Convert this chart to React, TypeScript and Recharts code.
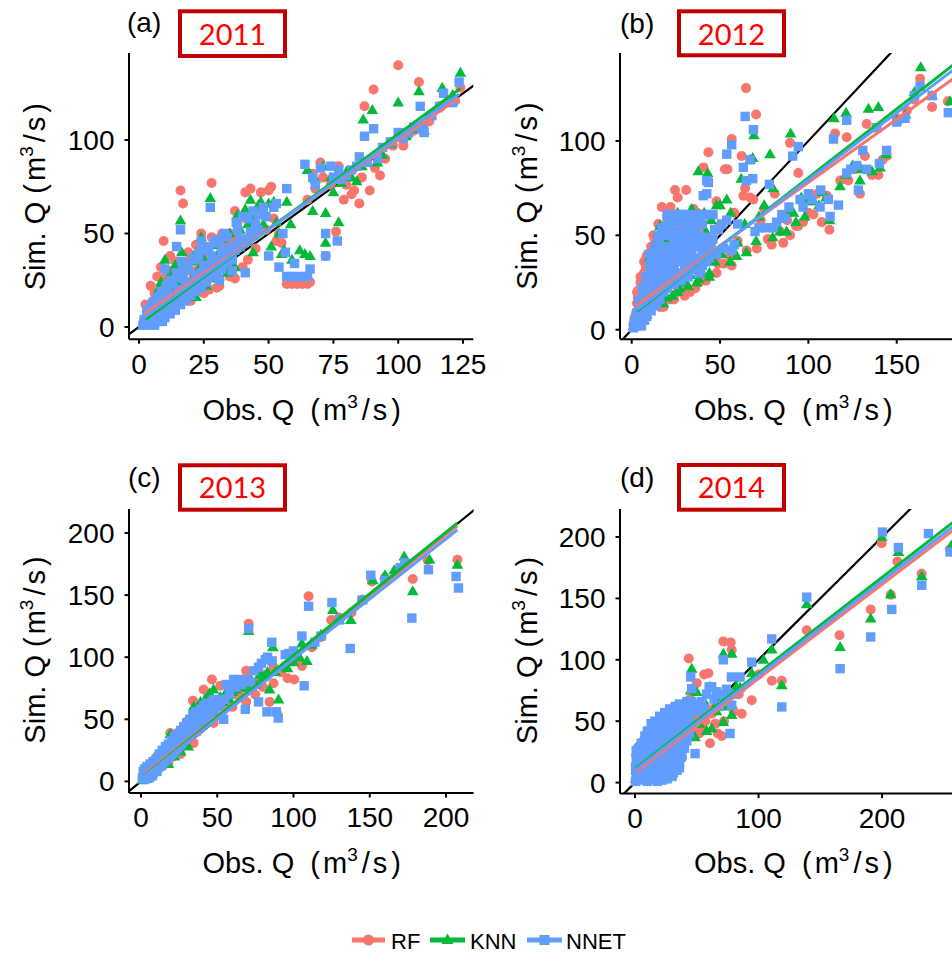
import { ScatterChart, Scatter, XAxis, YAxis } from 'recharts';

type Pt = [number, number];

const RF_COLOR = '#F8766D';
const KNN_COLOR = '#00BA38';
const NNET_COLOR = '#619CFF';

const models = ['RF', 'KNN', 'NNET'];
const years = ['2011', '2012', '2013', '2014'];
const panelTags = ['(a)', '(b)', '(c)', '(d)'];

// 1:1 reference line, clipped to the plot area
const identity: Pt[] = [[-50, -50], [400, 400]];

// ---- 2011 ----
const rf2011: Pt[] = [
  [2, 4], [2.5, 12], [3, 8], [3.5, 2], [4, 10], [4.5, 22], [5, 6], [5.5, 14], [6, 18], [6.5, 3], [7, 27], [7.5, 12],
  [8, 20], [8.5, 32], [9, 8], [9.5, 46], [10, 24], [11, 30], [11, 16], [12, 38], [13, 27], [13, 20], [14, 35], [15, 24],
  [16, 73], [17, 66], [17, 30], [18, 18], [19, 14], [19, 40], [20, 16], [21, 28], [22, 44], [23, 35], [24, 50], [24, 22],
  [25, 30], [26, 42], [27, 20], [28, 77], [28, 48], [29, 36], [30, 44], [31, 22], [32, 50], [33, 40], [34, 30], [35, 50],
  [36, 45], [37, 62], [37, 26], [38, 56], [40, 44], [41, 72], [42, 60], [43, 74], [44, 52], [45, 42], [46, 63], [47, 72],
  [48, 60], [49, 52], [50, 73], [51, 75], [52, 58], [53, 46], [54, 50], [55, 45], [57, 23], [59, 23], [61, 23], [63, 23],
  [65, 23], [66, 24], [65, 68], [67, 82], [68, 74], [70, 88], [71, 80], [72, 38], [74, 76], [76, 51], [77, 86], [79, 68],
  [80, 76], [82, 71], [83, 73], [85, 66], [86, 80], [87, 118], [89, 73], [90.5, 127], [91, 85], [93, 81], [95, 90],
  [98, 97], [100, 140], [102, 97], [104, 103], [106, 105], [108, 131], [110, 108], [112, 110], [116, 118], [119, 120],
  [122, 121], [124, 128], [10, 26], [12, 30], [15, 32], [20, 36], [25, 38], [20, 14], [25, 18], [30, 21], [35, 27],
  [40, 32], [42, 36], [6, 10], [9, 16], [14, 20], [18, 24], [22, 30], [28, 34], [33, 44], [38, 48],
];
const knn2011: Pt[] = [
  [2, 1], [3, 3], [3.5, 6], [4, 2], [4.5, 9], [5, 5], [5.5, 12], [6, 3], [6.5, 16], [7, 8], [7.5, 20], [8, 11], [8.5, 24],
  [9, 14], [9.5, 17], [10, 36], [10.5, 22], [11, 13], [12, 28], [13, 19], [14, 33], [15, 24], [16, 57], [16.5, 40],
  [17, 30], [18, 22], [18.5, 18], [19, 17], [20, 35], [21, 27], [21, 18], [22, 40], [23, 31], [24, 48], [25, 36], [26, 42],
  [27.5, 69], [28, 27], [29, 44], [30, 38], [31, 27], [32, 47], [33, 40], [34, 29], [35, 50], [36.5, 33], [37, 32],
  [38, 60], [39, 52], [40, 46], [41, 63], [42, 55], [43, 68], [44, 58], [44, 40], [46, 65], [47, 67], [48, 55], [50, 66],
  [51, 43], [52, 67], [53, 56], [54, 50], [55, 39], [56, 41], [57, 67], [58.5, 55], [59, 36], [62, 41], [64, 39], [65, 84],
  [66, 38], [67, 62], [68, 79], [71, 86], [72, 61], [72, 45], [74, 80], [75, 72], [77, 56], [78, 77], [80, 83], [82, 80],
  [84, 78], [86, 86], [86.5, 111], [88, 88], [90, 116], [92, 88], [94, 92], [97, 98], [100, 120], [103, 102], [106, 106],
  [108, 126], [110, 105], [112, 113], [115, 117], [117, 128], [121, 124], [124, 136], [12, 10], [16, 14], [22, 16],
  [26, 22], [30, 26], [35, 30], [14, 26], [18, 32], [24, 38], [30, 44],
];
const nnet2011: Pt[] = [
  [1.5, 1], [2, 4], [3, 2], [3.5, 7], [4, 1], [4.5, 10], [5, 4], [5.5, 13], [6, 2], [6.5, 8], [7, 16], [7.5, 5], [8, 11],
  [8.5, 19], [9, 3], [9.5, 14], [10, 31], [10.5, 22], [11, 8], [11.5, 17], [12, 25], [13, 12], [14.5, 43], [14.5, 29],
  [15, 20], [16, 52], [16.5, 35], [17, 26], [18, 15], [19, 31], [20, 22], [21, 37], [22, 28], [23, 40], [24, 46],
  [25, 33], [26, 25], [27.5, 64], [28, 38], [29, 30], [30, 45], [31, 25], [32, 41], [33, 36], [34, 48], [35, 42],
  [36, 30], [37.5, 56], [38, 52], [39, 47], [40, 59], [41, 29], [42, 58], [43, 51], [44, 62], [45, 55], [46, 60], [48, 64],
  [49, 59], [50, 38], [52, 64], [53, 66], [54, 32], [55.5, 50], [56.5, 40], [57, 74], [57, 27], [59, 27], [60, 34],
  [61, 27], [63, 27], [65, 27], [66, 31], [64, 87], [67, 80], [68, 76], [70, 85], [72, 50], [72, 38], [74, 86], [75, 80],
  [76.5, 46], [77, 84], [78, 79], [80, 81], [82, 84], [84, 86], [85, 91], [87, 102], [88, 88], [90.5, 106], [92, 90],
  [94, 96], [97, 99], [100, 104], [102, 101], [104, 104], [106, 107], [108.5, 118], [109.5, 106], [110, 104], [113, 113],
  [116, 118], [117.5, 125], [121, 120], [123.5, 131],
  [3, 5], [4, 4], [5, 7], [6, 6], [7, 9], [8, 8], [9, 10], [10, 12], [11, 11], [12, 14], [13, 13], [14, 16], [15, 15],
  [16, 18], [17, 19], [18, 21], [19, 20], [20, 24], [21, 23], [22, 26], [23, 25], [24, 29], [25, 27], [26, 31], [27, 30],
  [28, 33], [29, 32], [30, 36], [31, 35], [32, 38], [33, 37], [34, 40], [35, 39], [36, 42], [37, 41], [38, 44], [39, 43],
  [40, 47], [42, 46], [44, 49], [46, 52], [3, 9], [5, 12], [7, 14], [9, 18], [11, 20], [13, 23], [15, 27], [17, 30],
  [19, 33], [21, 36], [23, 38], [25, 41], [27, 43], [29, 46], [31, 47], [33, 50], [6, 1], [8, 3], [10, 5], [12, 7],
  [14, 9], [16, 12], [18, 14], [20, 17], [22, 19], [24, 21], [26, 24], [28, 27], [30, 29], [32, 31], [34, 34], [36, 36],
];
const rfFit2011: Pt[] = [[2, 7], [123, 122]];
const knnFit2011: Pt[] = [[2.5, 4], [124, 127.5]];
const nnetFit2011: Pt[] = [[2, 5], [123.5, 124.5]];

// ---- 2012 ----
const rf2012: Pt[] = [
  [1, 3], [1.5, 6], [2, 2], [2.5, 9], [3, 5], [3, 14], [3.5, 17], [4, 8], [4, 21], [4.5, 11], [5, 4], [5, 25], [5.5, 14],
  [6, 27], [6, 7], [6.5, 18], [7, 30], [7, 10], [7.5, 22], [8, 33], [8.5, 39], [8, 13], [9, 25], [9.5, 16], [10, 36],
  [10.5, 20], [11, 29], [12, 44], [12.3, 50], [12.5, 24], [13, 15], [14, 46], [14, 33], [15, 19], [16, 12], [16, 38],
  [17, 54], [17, 65], [18, 28], [19, 42], [21.7, 16], [21, 35], [22, 47], [23, 25], [24.5, 74], [24, 52], [25, 38],
  [26, 20], [27, 56], [28, 43], [29, 30], [30.8, 74], [30, 58], [31, 21], [32, 48], [33, 20], [34.9, 64], [35, 52],
  [36, 36], [37, 62], [38, 25], [39, 55], [40.6, 86], [41.5, 27], [42, 46], [43.4, 94], [45, 60], [47, 37], [48, 68],
  [49, 35], [50, 55], [52.8, 85], [54.2, 85], [55.7, 39], [56.6, 101], [56.6, 34], [58, 62], [60, 47], [62.2, 92],
  [63.2, 71], [64.7, 128], [64.2, 75], [65.1, 42], [67, 70], [68.9, 69], [70.4, 114], [70.8, 43], [73, 58], [75, 64],
  [77, 48], [79.2, 45], [81, 72], [84, 52], [85.8, 46], [88, 58], [89.6, 99], [89.6, 50], [93, 55], [94.3, 83],
  [94.3, 55], [97, 57], [100, 62], [102.8, 61], [105, 72], [107.5, 57], [110.4, 71], [111.9, 53], [115.1, 104],
  [118, 79], [121.7, 102], [122.6, 79], [126, 85], [129.2, 72], [132, 92], [133, 109], [136, 82], [139.6, 82], [142, 90],
  [144.3, 92], [150, 112], [155.7, 116], [160, 122], [163.2, 133], [170, 118], [179, 121],
  [3, 20], [5, 28], [7, 36], [9, 40], [11, 44], [13, 48], [15, 56], [20, 60], [26, 70], [22, 65], [18, 12], [24, 16],
  [30, 18], [36, 22], [42, 26], [48, 30], [52, 35],
];
const knn2012: Pt[] = [
  [1, 2], [1.5, 4], [2, 7], [2.5, 3], [3, 10], [3.5, 5], [4, 12], [4.5, 7], [5, 15], [5, 3], [5.5, 9], [6, 18], [6.5, 12],
  [7, 5], [7.5, 21], [8, 14], [8.5, 8], [9, 24], [9.5, 17], [10, 11], [10.5, 28], [11, 20], [12.3, 43], [12.5, 31],
  [13, 14], [13.5, 24], [14, 36], [15, 18], [16, 55], [16, 40], [17, 27], [18, 14], [19, 47], [20, 22], [21, 33],
  [22, 57], [23, 18], [24, 42], [25, 29], [26, 62], [27, 22], [28, 50], [29, 36], [30, 25], [31, 58], [32, 44], [33, 29],
  [34, 64], [35, 54], [36.8, 25], [37.7, 84], [38, 46], [40, 30], [41, 62], [42, 52], [43, 83], [44, 28], [45, 58],
  [47, 36], [48, 66], [50, 66], [51, 40], [53.8, 69], [55.7, 36], [56, 62], [59.4, 39], [60, 46], [62, 80], [64, 56],
  [65, 41], [67, 90], [68.5, 91], [69.2, 103], [70.4, 47], [72, 60], [75, 66], [78.3, 93], [79.8, 49], [80, 75],
  [82, 56], [84, 52], [87.7, 52], [88, 62], [90, 104], [91.5, 62], [93, 57], [96, 70], [98, 60], [100, 68], [103, 68],
  [106, 66], [108, 73], [110, 70], [112, 58], [114.5, 112], [117.9, 76], [121.3, 115], [121, 82], [125, 87], [129.2, 79],
  [130, 85], [134, 117], [136, 84], [139.6, 118], [140.6, 86], [144, 93], [150, 111], [155, 114], [160, 126],
  [163.6, 139], [170, 124], [180.2, 121], [20, 17], [26, 20], [32, 23], [38, 27], [44, 30], [15, 48], [25, 58],
  [35, 62], [10, 38],
];
const nnet2012: Pt[] = [
  [1, 1], [1.5, 3], [2, 6], [2.5, 2], [3, 9], [3.5, 4], [4, 11], [4.5, 7], [5, 14], [5.5, 2], [6, 17], [6.5, 10], [7, 5],
  [7.5, 20], [8, 13], [8.5, 7], [9, 23], [9.5, 16], [10, 40], [10.5, 30], [11, 10], [11.5, 26], [12, 19], [13, 40],
  [13.5, 33], [14, 13], [15, 23], [15.5, 47], [17, 54], [16.5, 36], [17, 28], [18, 20], [19, 40], [20, 50], [21, 31],
  [22.6, 61], [23, 44], [24, 24], [25.5, 51], [26, 61], [26, 37], [27, 46], [28, 29], [29, 61], [30, 55], [31, 42],
  [32, 33], [33, 61], [34, 50], [35, 38], [36, 61], [37, 48], [38, 57], [39, 31], [40.5, 71], [41, 44], [42.4, 79],
  [42.5, 72], [43.4, 78], [44.3, 61], [44, 38], [45, 46], [46, 61], [47, 53], [48, 40], [49.1, 53], [50.9, 56], [52, 43],
  [53.8, 93], [53.8, 58], [56.6, 98], [56.6, 42], [58, 45], [60, 56], [63.2, 86], [64.2, 113], [65, 79], [67, 90],
  [68.9, 106], [68.5, 80], [69.8, 52], [72, 54], [76, 54], [77.9, 77], [80.2, 54], [82, 57], [85, 61], [86.8, 59],
  [89, 65], [91.1, 92], [94.3, 97], [95.3, 69], [97, 65], [100, 72], [102, 69], [106.6, 65], [107, 74], [111.3, 69],
  [112.3, 60], [114.2, 101], [117, 66], [121.7, 83], [121.7, 111], [124, 85], [127.4, 87], [128.3, 74], [130.8, 95],
  [133, 85], [138.7, 107], [140.2, 88], [144.3, 95], [150, 110], [154.7, 112], [160, 124], [163.2, 129], [170, 124],
  [179.2, 115], [18, 38], [22, 40], [24, 40], [20, 44], [28, 52], [30, 48], [32, 52], [34, 58], [36, 55], [38, 44],
  [42, 49], [12, 34], [14, 28], [16, 24], [10, 20], [20, 30], [24, 30], [28, 36], [30, 38], [34, 42], [8, 18], [12, 14],
  [14, 18], [11.3, 40], [15, 40], [27.4, 40],
  [6, 22], [8, 28], [10, 34], [12, 30], [14, 38], [16, 44], [18, 50], [20, 56], [22, 52], [24, 57], [26, 48], [28, 58],
  [30, 61], [32, 56], [34, 48], [36, 44], [38, 50], [40, 56], [42, 40], [44, 46], [16, 30], [18, 26], [20, 22], [22, 26],
  [24, 34], [26, 30], [28, 26], [30, 32], [32, 28], [34, 34], [36, 32], [38, 36], [40, 34], [42, 36], [44, 42], [46, 48],
  [10, 14], [12, 22], [14, 24], [16, 16], [18, 32], [20, 38], [22, 34], [24, 46], [26, 44], [28, 40], [30, 43], [32, 46],
  [34, 53], [36, 49], [38, 30], [40, 40], [20, 61], [24, 61], [28, 61], [32, 61], [38, 61], [42, 61], [6, 12], [8, 22],
  [4, 15], [5, 8], [7, 16], [9, 26], [11, 36], [13, 44], [15, 50],
];
const rfFit2012: Pt[] = [[2, 12.4], [184, 134.3]];
const knnFit2012: Pt[] = [[3, 9.7], [184, 141.8]];
const nnetFit2012: Pt[] = [[3, 10.6], [184, 139.1]];

// ---- 2013 ----
const rf2013: Pt[] = [
  [1, 2], [2, 6], [2.8, 11], [3, 4], [4, 8], [5, 3], [5.5, 12], [6, 9], [7, 14], [7.5, 6], [8, 16], [9, 11], [10.5, 20],
  [10, 8], [11, 14], [12, 22], [13, 17], [14, 12], [15, 25], [16, 19], [17, 29], [18, 15], [19.2, 39], [19, 24],
  [20, 31], [21, 20], [22, 28], [23, 36], [24, 26], [25, 40], [26, 22], [27, 33], [28, 44], [29, 30], [30, 48],
  [34.5, 31], [32, 38], [33, 50], [34.1, 65], [35, 46], [36, 54], [37, 40], [38, 58], [39, 44], [40, 62], [41.1, 74],
  [42, 50], [43, 60], [44, 68], [45, 48], [46.5, 82], [47.6, 47], [48, 56], [50, 62], [52, 77], [53, 52], [55.3, 59],
  [57, 66], [60, 60], [62, 70], [64, 74], [66, 68], [69, 89], [69, 64], [70.6, 127], [72, 78], [74.9, 70], [77, 80],
  [80, 76], [82, 86], [84.3, 64], [86.9, 79], [87, 92], [89.1, 55], [92, 88], [96.1, 83], [100.5, 82], [103, 98],
  [105.5, 93], [109.9, 149], [112, 108], [118, 116], [124.7, 130], [130, 132], [138, 136], [145, 146], [151.4, 161],
  [160, 164], [170, 172], [178.2, 163], [188, 178], [207.5, 178.5],
];
const knn2013: Pt[] = [
  [1, 1], [2, 4], [3, 7], [3.5, 2], [4, 10], [5, 6], [6, 12], [6.5, 4], [7, 9], [8, 15], [9, 8], [10, 18], [11, 12],
  [12, 21], [13, 15], [14, 24], [15, 18], [16, 28], [17, 22], [18, 14], [19.2, 38], [20, 26], [21, 30], [22, 20],
  [23, 34], [24, 28], [25, 38], [26, 24], [27, 42], [28, 32], [29, 45], [30, 36], [31, 28], [32, 48], [33, 40],
  [34, 52], [34.5, 60], [36, 44], [37, 56], [38, 48], [39, 64], [40, 52], [42, 66], [43, 58], [45, 71], [46, 62],
  [47.6, 74], [48, 55], [48.7, 55], [50, 60], [52, 68], [54, 64], [55, 70], [58, 66], [60, 72], [62, 74], [65, 76],
  [69, 76.5], [70.6, 121], [70, 75], [72, 82], [75, 78], [78, 86], [80, 84], [83, 88], [84.3, 74], [86.5, 108], [88, 88],
  [90.2, 66], [93, 92], [96.1, 91], [100, 96], [104, 100], [105.5, 111], [108.8, 97], [112, 110], [118, 118],
  [125.8, 138], [130, 130], [137.6, 130], [145, 146], [152, 162], [160, 166], [166, 170], [172.6, 181], [178.2, 153],
  [189.2, 178.5], [207.5, 174.4],
];
const nnet2013: Pt[] = [
  [1, 3], [1.5, 8], [2, 5], [2.5, 10], [3, 2], [3.5, 6], [4, 12], [5, 8], [5.5, 3], [6, 14], [7, 10], [7.5, 5], [8, 16],
  [9, 12], [10, 18], [10.5, 8], [11, 14], [12, 22], [13, 16], [14, 25], [15, 20], [16, 28], [17, 22], [18, 30], [19, 25],
  [20, 33], [21, 28], [22, 36], [23, 30], [24, 38], [25, 33], [26, 41], [27, 36], [28, 44], [29, 38], [30, 47], [31, 41],
  [32, 50], [33, 44], [34, 53], [35, 47], [36, 56], [37, 50], [38, 55], [39, 58], [40, 52], [41, 61], [42, 56], [43, 63],
  [44, 58], [45, 60], [47.6, 65.8], [48, 62], [50, 64], [52, 66], [54.2, 50], [56, 78], [58, 74], [60.7, 82], [62, 81],
  [64, 82], [66, 78], [68.4, 58], [69, 82], [70.6, 123], [72, 80], [74, 89], [77.1, 64], [77.1, 92], [79, 95], [81.5, 98],
  [82.6, 56], [83, 100], [85.8, 112], [86, 97], [88.7, 56], [90, 51], [94.6, 102], [97, 103], [100, 105], [105.5, 117],
  [107, 77], [109.9, 141], [114, 112], [118, 117], [125.2, 144], [130, 130], [137.2, 107], [145, 146], [150.7, 166],
  [160, 162], [170, 172], [173, 176], [177.6, 131.5], [188.5, 170.4], [206.6, 165], [208.2, 155.7],
  [2, 2], [3, 5], [4, 3], [5, 6], [6, 5], [7, 8], [8, 7], [9, 9], [10, 10], [11, 11], [12, 12], [13, 13], [14, 14],
  [15, 16], [16, 17], [17, 18], [18, 20], [19, 21], [20, 22], [21, 23], [22, 25], [23, 26], [24, 27], [25, 29], [26, 30],
  [27, 31], [28, 33], [29, 34], [30, 35], [31, 37], [32, 38], [33, 39], [34, 41], [35, 42], [36, 43], [37, 45], [38, 46],
  [39, 47], [40, 49], [42, 51], [44, 53], [46, 56], [48, 58], [50, 60], [52, 62], [55, 66], [58, 70], [62, 76], [65, 80],
];
const rfFit2013: Pt[] = [[1.7, 5.4], [207.5, 205.8]];
const knnFit2013: Pt[] = [[1.7, 4], [207.5, 208]];
const nnetFit2013: Pt[] = [[1.7, 3.5], [207.5, 202.6]];

// ---- 2014 ----
const rf2014: Pt[] = [
  [0.5, 2], [1, 8], [1, 15], [1.5, 4], [2, 11], [2, 20], [2.5, 6], [3, 14], [4, 30], [3.5, 3], [4, 9], [4, 18], [5, 12],
  [5, 24], [5.5, 5], [6, 16], [6, 8], [7, 22], [7, 13], [8, 4], [8, 18], [9, 26], [9, 10], [10, 15], [10, 32], [11, 20],
  [11, 6], [12, 28], [12, 12], [13, 18], [14, 35], [14, 9], [15, 24], [15, 15], [16, 40], [16, 20], [17, 10], [18, 30],
  [18, 17], [19, 25], [20, 45], [20, 12], [21, 35], [22, 20], [22, 28], [23, 15], [24.3, 53], [24, 38], [25, 25],
  [26, 18], [27, 42], [28, 30], [29, 20], [30, 50], [31, 35], [32, 26], [33, 44], [34, 30], [35, 38], [36, 48], [37, 30],
  [38, 40], [40, 55], [41, 35], [42, 45], [43.5, 101], [44.5, 68], [45, 38], [46, 58], [50, 81], [49, 52], [50, 42],
  [52, 40], [53, 62], [55.3, 43], [56, 88], [57, 50], [59.4, 89], [60.7, 32], [62, 56], [63, 60], [65, 48], [67, 40],
  [70.2, 38], [71.5, 115], [72, 50], [74, 70], [77.5, 114], [78.3, 108], [78, 62], [80, 58], [86.4, 56], [84, 72],
  [94.5, 67], [100, 88], [110.7, 83], [118.8, 83], [139, 124], [165.5, 120], [190.8, 141], [199.7, 195], [207, 153],
  [212.4, 180], [232, 170], [255, 190],
  [2, 28], [4, 30], [1, 22], [6, 33], [10, 38], [14, 42], [18, 50], [22, 52], [26, 56], [30, 58], [34, 52], [38, 48],
  [40, 44], [44, 52], [48, 44], [30, 10], [34, 16], [38, 20], [26, 6],
];
const knn2014: Pt[] = [
  [0.5, 3], [1, 10], [1, 18], [1.5, 6], [2, 13], [2.5, 22], [3, 8], [3, 16], [4, 4], [4, 25], [5, 11], [5, 19], [6, 7],
  [6, 28], [7, 14], [7, 22], [8, 9], [9, 17], [9, 30], [10, 12], [10, 24], [11, 34], [12, 16], [12, 8], [13, 26],
  [14, 20], [14, 38], [15, 12], [16, 30], [17, 22], [18, 42], [18, 14], [19, 33], [20, 24], [21, 18], [22, 40], [23, 30],
  [24, 22], [25, 48], [26, 34], [27, 26], [28, 44], [29, 36], [30, 28], [31, 54], [32, 40], [34, 46], [35, 32], [36, 50],
  [38, 42], [40, 56], [42, 60], [45.9, 92.8], [45, 75], [48.6, 37], [47, 64], [50, 73.8], [52, 48], [54, 58], [56, 66],
  [58, 42], [60.7, 78], [62, 44], [64, 60], [66, 58], [71.5, 49.4], [71.5, 105], [73, 62], [75, 65], [78.3, 105],
  [78.3, 55], [80, 74], [82, 78], [85, 77.4], [94.5, 89.3], [104, 100], [110.7, 108.3], [118.8, 79.3], [139, 145.2],
  [166, 110.5], [190.8, 133.6], [199.7, 200], [207, 153.4], [213.2, 187.8], [232.1, 168], [256, 193],
  [3, 30], [8, 34], [12, 40], [16, 46], [20, 50], [28, 56], [34, 58], [40, 62], [36, 20], [30, 12],
];
const nnet2014: Pt[] = [
  [0.5, 1], [0.5, 12], [1, 5], [1, 20], [1.5, 9], [1.5, 16], [2, 3], [2, 24], [2.5, 13], [3, 7], [3, 19], [3.5, 11],
  [4, 2], [4, 15], [4.5, 23], [5, 9], [5.5, 17], [6, 5], [6, 27], [6.5, 13], [7, 21], [7.5, 9], [8, 30], [8, 16], [9, 4],
  [9, 24], [10, 12], [10, 34], [11, 20], [11, 27], [12, 9], [12, 38], [13, 16], [13, 24], [14, 44], [14, 12], [15, 30],
  [15, 20], [16, 6], [16, 26], [17, 36], [17, 14], [18, 46], [18, 22], [19, 30], [20, 10], [20, 40], [21, 18], [21, 27],
  [22, 50], [22, 35], [23, 14], [23, 24], [24, 45], [24, 30], [25, 20], [26, 38], [26, 12], [27, 28], [27, 48], [28, 22],
  [29, 36], [29, 15], [30, 42], [30, 28], [31, 55], [31, 8], [32.4, 61.6], [32, 34], [33, 24], [33, 46], [34, 18],
  [34, 38], [35, 30], [36, 50], [36, 12], [37, 42], [38, 55], [39, 36], [40, 48], [41, 60], [42, 52], [43, 62], [45.1, 86],
  [45.9, 76.5], [46, 66], [48.6, 23.6], [48, 60], [50, 64], [52, 58], [54, 66], [56, 60], [58, 72], [60, 78], [62.1, 78],
  [64, 68], [66, 74], [68, 62], [70, 72], [71.5, 100], [72, 66], [74, 76], [75, 70], [78.3, 63], [76.9, 40], [78, 86],
  [85, 86], [80, 72], [94.5, 98], [110.7, 117], [118.8, 61.6], [139, 151], [166, 92.8], [190.8, 118.6], [200.3, 204],
  [207.8, 141], [213.2, 191.4], [232.1, 160.7], [237.5, 202.8], [255, 187.8],
  [1, 26], [3, 28], [5, 32], [8, 38], [10, 42], [13, 48], [16, 50], [20, 54], [24, 57], [28, 60], [33, 62], [36, 64],
  [39, 62], [42, 66], [44, 56], [46, 48], [44, 40], [42, 34], [40, 28], [38, 22], [36, 16], [34, 10], [30, 5], [26, 3],
  [22, 2], [18, 1], [14, 3], [10, 1], [28, 10], [32, 14], [24, 8], [20, 5], [38, 30], [40, 38], [42, 44], [36, 26],
  [26, 44], [28, 50], [30, 52], [22, 44], [16, 36], [12, 30], [8, 26],
];
const rfFit2014: Pt[] = [[1.3, 9], [262, 209]];
const knnFit2014: Pt[] = [[0.5, 11.5], [262, 215.5]];
const nnetFit2014: Pt[] = [[0.5, 10.5], [262, 212]];

const xTicks2011 = [0, 25, 50, 75, 100, 125];
const yTicks2011 = [0, 50, 100];
const xTicks2012 = [0, 50, 100, 150];
const yTicks2012 = [0, 50, 100];
const xTicks2013 = [0, 50, 100, 150, 200];
const yTicks2013 = [0, 50, 100, 150, 200];
const xTicks2014 = [0, 100, 200];
const yTicks2014 = [0, 50, 100, 150, 200];

const FONT = "'Liberation Sans', Arial, sans-serif";
const Y_W = 90;
const M_T = 10;
const M_R = 40;
const X_H = 60;

const panels = [
  {
    left: 128.7, top: 53.3, w: 344.3, h: 286.2, xDomain: [-3.86, 128.97], yDomain: [-6.52, 146.52],
    xTicks: xTicks2011, yTicks: yTicks2011, series: [rf2011, knn2011, nnet2011], fits: [rfFit2011, knnFit2011, nnetFit2011],
  },
  {
    left: 620, top: 53.3, w: 358, h: 286.2, xDomain: [-6.62, 196], yDomain: [-5.03, 146.6],
    xTicks: xTicks2012, yTicks: yTicks2012, series: [rf2012, knn2012, nnet2012], fits: [rfFit2012, knnFit2012, nnetFit2012],
  },
  {
    left: 128.7, top: 509.3, w: 344.6, h: 284, xDomain: [-7.86, 218.1], yDomain: [-9.34, 219.3],
    xTicks: xTicks2013, yTicks: yTicks2013, series: [rf2013, knn2013, nnet2013], fits: [rfFit2013, knnFit2013, nnetFit2013],
  },
  {
    left: 620, top: 508.7, w: 356, h: 284.6, xDomain: [-12.15, 276], yDomain: [-8.96, 222.8],
    xTicks: xTicks2014, yTicks: yTicks2014, series: [rf2014, knn2014, nnet2014], fits: [rfFit2014, knnFit2014, nnetFit2014],
  },
];

const pts = (a: Pt[]) => a.map(([x, y]) => ({ x, y }));

const circleShape = (fill: string) => (p: any) => <circle cx={p.cx} cy={p.cy} r={5} fill={fill} />;
const triangleShape = (fill: string) => (p: any) => (
  <polygon points={`${p.cx},${p.cy - 6} ${p.cx - 5.8},${p.cy + 4} ${p.cx + 5.8},${p.cy + 4}`} fill={fill} />
);
const squareShape = (fill: string) => (p: any) => (
  <rect x={p.cx - 4.7} y={p.cy - 4.7} width={9.4} height={9.4} fill={fill} />
);
const noShape = () => <g />;

const colors = [RF_COLOR, KNN_COLOR, NNET_COLOR];
const shapes = [circleShape, triangleShape, squareShape];

function Panel({ cfg }: { cfg: (typeof panels)[number] }) {
  const tickStyle = { fill: '#000', fontSize: 28, fontFamily: FONT };
  return (
    <div style={{ position: 'absolute', left: cfg.left - Y_W, top: cfg.top - M_T }}>
      <ScatterChart
        width={Y_W + cfg.w + M_R}
        height={M_T + cfg.h + X_H}
        margin={{ top: M_T, right: M_R, bottom: 0, left: 0 }}
      >
        <XAxis
          type="number"
          dataKey="x"
          domain={cfg.xDomain}
          ticks={cfg.xTicks}
          interval={0}
          allowDataOverflow
          height={X_H}
          tick={tickStyle}
          tickSize={4.5}
          tickMargin={10}
          axisLine={{ stroke: '#000', strokeWidth: 2 }}
          tickLine={{ stroke: '#000', strokeWidth: 2 }}
        />
        <YAxis
          type="number"
          dataKey="y"
          domain={cfg.yDomain}
          ticks={cfg.yTicks}
          interval={0}
          allowDataOverflow
          width={Y_W}
          tick={tickStyle}
          tickSize={4.5}
          tickMargin={10}
          axisLine={{ stroke: '#000', strokeWidth: 2 }}
          tickLine={{ stroke: '#000', strokeWidth: 2 }}
        />
        <Scatter data={pts(identity)} line={{ stroke: '#000', strokeWidth: 2.2 }} shape={noShape} isAnimationActive={false} />
        {cfg.series.map((s, i) => (
          <Scatter key={models[i]} data={pts(s)} shape={shapes[i](colors[i])} isAnimationActive={false} />
        ))}
        {cfg.fits.map((f, i) => (
          <Scatter
            key={models[i] + '-fit'}
            data={pts(f)}
            line={{ stroke: colors[i], strokeWidth: 3 }}
            shape={noShape}
            isAnimationActive={false}
          />
        ))}
      </ScatterChart>
    </div>
  );
}

// titles, year boxes and legend, drawn on top of the four panels
const tagPos: Pt[] = [[127, 32], [620, 33], [128, 487], [620, 487]];
const boxPos = [
  { x: 180, y: 11.3, h: 44.7, base: 45 },
  { x: 679, y: 11.3, h: 44, base: 45 },
  { x: 180, y: 465.3, h: 44.4, base: 498 },
  { x: 679, y: 465, h: 44.7, base: 498 },
];
const xTitlePos: Pt[] = [[301.7, 420], [793.3, 419.5], [301.7, 873.3], [793.3, 873.3]];
const yTitlePos: Pt[] = [[45, 196.7], [536.7, 196], [45, 650], [536.7, 650.5]];

function Unit() {
  return (
    <>
      (<tspan dx={3}>m</tspan>
      <tspan dy={-12} fontSize={19}>3</tspan>
      <tspan dy={12} dx={4}>/</tspan>
      <tspan dx={3}>s</tspan>
      <tspan dx={4}>)</tspan>
    </>
  );
}

function Overlay() {
  return (
    <svg width={952} height={953} style={{ position: 'absolute', left: 0, top: 0, pointerEvents: 'none' }}>
      {panelTags.map((t, i) => (
        <text key={t} x={tagPos[i][0]} y={tagPos[i][1]} fontSize={28} fontFamily={FONT} fill="#000">
          {t}
        </text>
      ))}
      {years.map((y, i) => (
        <g key={y}>
          <rect x={boxPos[i].x} y={boxPos[i].y} width={105} height={boxPos[i].h} fill="#fff" stroke="#C00000" strokeWidth={4} />
          <text x={boxPos[i].x + 52.5} y={boxPos[i].base} textAnchor="middle" fontSize={29} fontFamily="Lato, 'Open Sans', sans-serif" fill="#FF0000">
            {y}
          </text>
        </g>
      ))}
      {xTitlePos.map(([x, y], i) => (
        <text key={'xt' + i} x={x} y={y} textAnchor="middle" fontSize={29} fontFamily={FONT} fill="#000" xmlSpace="preserve">
          {'Obs. Q  '}
          <Unit />
        </text>
      ))}
      {yTitlePos.map(([x, y], i) => (
        <text
          key={'yt' + i}
          transform={`translate(${x},${y}) rotate(-90)`}
          textAnchor="middle"
          fontSize={29}
          fontFamily={FONT}
          fill="#000"
          xmlSpace="preserve"
        >
          {'Sim. Q '}
          <Unit />
        </text>
      ))}
      <g fontFamily={FONT} fontSize={22} fill="#000">
        <line x1={352} x2={385} y1={940} y2={940} stroke={RF_COLOR} strokeWidth={5} />
        <circle cx={368.5} cy={940} r={5.5} fill={RF_COLOR} />
        <text x={391} y={948.5}>{models[0]}</text>
        <line x1={430} x2={465} y1={940} y2={940} stroke={KNN_COLOR} strokeWidth={5} />
        <polygon points="447.5,933.5 441.5,944 453.5,944" fill={KNN_COLOR} />
        <text x={470} y={948.5}>{models[1]}</text>
        <line x1={527} x2={562} y1={940} y2={940} stroke={NNET_COLOR} strokeWidth={5} />
        <rect x={539.5} y={935} width={10} height={10} fill={NNET_COLOR} />
        <text x={566} y={948.5}>{models[2]}</text>
      </g>
    </svg>
  );
}

export default function App() {
  return (
    <div style={{ position: 'absolute', left: 0, top: 0, width: 952, height: 953, overflow: 'hidden', background: '#fff' }}>
      {panels.map((p, i) => (
        <Panel key={years[i]} cfg={p} />
      ))}
      <Overlay />
    </div>
  );
}
